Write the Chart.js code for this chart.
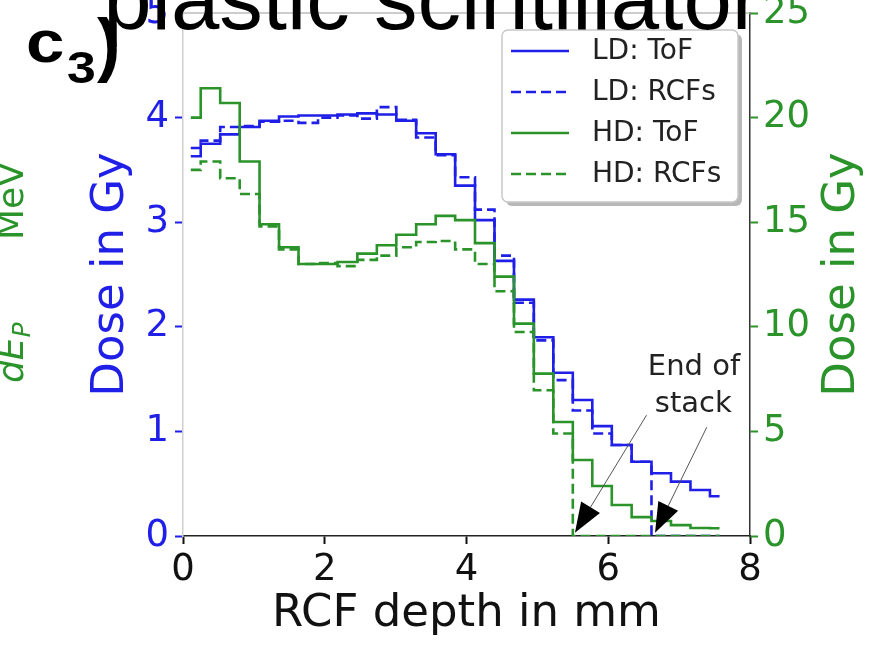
<!DOCTYPE html>
<html>
<head>
<meta charset="utf-8">
<script src="https://cdn.jsdelivr.net/npm/chart.js@4.4.1/dist/chart.umd.min.js"></script>
<style>
  html, body { margin: 0; padding: 0; background: #fff; }
  #wrap { width: 871px; height: 645px; }
</style>
</head>
<body>
<div id="wrap"><canvas id="doseChart" width="871" height="645"></canvas></div>
<script>
// RCF depth (mm) at the centre of each step
const depthMm = [0.11, 0.39, 0.66, 0.94, 1.22, 1.49, 1.77, 2.04, 2.32, 2.60, 2.87, 3.15, 3.43, 3.70,
  3.98, 4.26, 4.53, 4.81, 5.09, 5.36, 5.64, 5.91, 6.19, 6.47, 6.75, 7.02, 7.30, 7.57];

// low dose, left axis (Gy)
const ldTof = [3.63, 3.75, 3.84, 3.91, 3.97, 4.01, 4.02, 4.02, 4.03, 4.04, 4.03, 3.97, 3.85, 3.65,
  3.35, 3.02, 2.63, 2.26, 1.90, 1.56, 1.30, 1.05, 0.87, 0.71, 0.60, 0.52, 0.44, 0.38];
const ldRcf = [3.71, 3.78, 3.91, 3.92, 3.96, 3.97, 3.95, 4.00, 4.02, 3.99, 4.10, 3.98, 3.81, 3.64,
  3.43, 3.12, 2.68, 2.23, 1.87, 1.49, 1.20, 0.98, 0.87, 0.71, 0, 0, 0, 0];

// high dose, right axis (Gy)
const hdTof = [20.0, 21.4, 20.7, 17.9, 14.9, 13.8, 13.0, 13.0, 13.1, 13.5, 13.9, 14.4, 14.9, 15.3,
  15.1, 14.0, 12.4, 10.15, 7.76, 5.45, 3.63, 2.39, 1.48, 0.9, 0.72, 0.52, 0.38, 0.37];
const hdRcf = [17.5, 17.9, 17.1, 16.35, 14.8, 13.7, 13.0, 13.05, 12.9, 13.2, 13.4, 13.8, 14.05, 14.1,
  13.7, 13.0, 11.7, 9.75, 6.97, 4.9, 0, 0, 0, 0, 0, 0, 0, 0];

const xTicks = [0, 2, 4, 6, 8];
const leftTicks = [0, 1, 2, 3, 4, 5];
const rightTicks = [0, 5, 10, 15, 20, 25];

const seriesNames = ["LD: ToF", "LD: RCFs", "HD: ToF", "HD: RCFs"];

const BLUE = "#1f1fe8";
const GREEN = "#2a942a";
const FONT = "'DejaVu Sans', sans-serif";
const SANS = "'Liberation Sans', Arial, sans-serif";

const toPoints = (vals) => depthMm.map((x, i) => ({ x, y: vals[i] }));

const lineStyle = (color, dashed, axis, order) => ({
  borderColor: color,
  borderWidth: 2.6,
  borderDash: dashed ? [10, 5] : [],
  stepped: "middle",
  pointRadius: 0,
  fill: false,
  yAxisID: axis,
  order,
});

const overlay = {
  id: "overlay",
  beforeDraw(chart) {
    const c = chart.ctx;
    c.save();
    c.fillStyle = "#fff";
    c.fillRect(0, 0, chart.width, chart.height);
    c.restore();
  },
  afterDraw(chart) {
    const c = chart.ctx;
    const { left, right, top, bottom } = chart.chartArea;
    const sx = chart.scales.x;
    const sy = chart.scales.y;
    c.save();

    // top spine
    c.strokeStyle = "#bbb";
    c.lineWidth = 1.5;
    c.beginPath();
    c.moveTo(left, top);
    c.lineTo(right, top);
    c.stroke();

    // right axis title, read bottom to top like the left one
    c.save();
    c.translate(842, (top + bottom) / 2);
    c.rotate(-Math.PI / 2);
    c.fillStyle = GREEN;
    c.font = "45px " + FONT;
    c.textAlign = "center";
    c.textBaseline = "middle";
    c.fillText("Dose in Gy", 0, 0);
    c.restore();

    // legend box
    const lx = 502, ly = 30, lw = 236, lh = 172;
    c.fillStyle = "rgba(0,0,0,0.28)";
    c.beginPath();
    c.roundRect(lx + 4, ly + 4, lw, lh, 6);
    c.fill();
    c.fillStyle = "#fff";
    c.strokeStyle = "#c8c8c8";
    c.lineWidth = 1.5;
    c.beginPath();
    c.roundRect(lx, ly, lw, lh, 6);
    c.fill();
    c.stroke();

    const rows = [51, 92, 133, 174];
    const colors = [BLUE, BLUE, GREEN, GREEN];
    c.font = "28px " + FONT;
    c.textBaseline = "middle";
    c.textAlign = "left";
    seriesNames.forEach((name, i) => {
      c.strokeStyle = colors[i];
      c.lineWidth = 2.6;
      c.setLineDash(i % 2 ? [10, 5] : []);
      c.beginPath();
      c.moveTo(511, rows[i]);
      c.lineTo(569, rows[i]);
      c.stroke();
      c.setLineDash([]);
      c.fillStyle = "#222";
      c.fillText(name, 592, rows[i] + 1);
    });

    // "End of stack" annotation
    const arrow = (x0, y0, x1, y1) => {
      const p0x = sx.getPixelForValue(x0), p0y = sy.getPixelForValue(y0);
      const p1x = sx.getPixelForValue(x1), p1y = sy.getPixelForValue(y1);
      const dx = p1x - p0x, dy = p1y - p0y, len = Math.hypot(dx, dy);
      const ux = dx / len, uy = dy / len;
      const hl = 30, hw = 11;
      const bx = p1x - ux * hl, by = p1y - uy * hl;
      c.strokeStyle = "#555";
      c.lineWidth = 1;
      c.beginPath();
      c.moveTo(p0x, p0y);
      c.lineTo(bx, by);
      c.stroke();
      c.fillStyle = "#000";
      c.beginPath();
      c.moveTo(p1x, p1y);
      c.lineTo(bx - uy * hw, by + ux * hw);
      c.lineTo(bx + uy * hw, by - ux * hw);
      c.closePath();
      c.fill();
    };
    arrow(6.54, 1.155, 5.53, 0.03);
    arrow(7.39, 1.04, 6.66, 0.03);
    c.fillStyle = "#222";
    c.font = "29px " + FONT;
    c.textAlign = "center";
    c.fillText("End of", sx.getPixelForValue(7.21), sy.getPixelForValue(1.615));
    c.fillText("stack", sx.getPixelForValue(7.2), sy.getPixelForValue(1.26));

    // clipped panel title
    c.fillStyle = "#000";
    c.font = "87px " + SANS;
    c.textBaseline = "alphabetic";
    c.fillText("plastic scintillator", 432, 29);

    // panel tag c3)
    c.textAlign = "left";
    c.save();
    c.translate(26, 62);
    c.scale(1.15, 1);
    c.font = "bold 60px " + SANS;
    c.fillText("c", 0, 0);
    c.restore();
    c.save();
    c.translate(67, 83);
    c.scale(1.15, 1);
    c.font = "bold 45px " + SANS;
    c.fillText("3", 0, 0);
    c.restore();
    c.font = "bold 70px " + SANS;
    c.fillText(")", 97, 68);

    // neighbouring panel's axis label, cut at the left edge
    c.translate(23, 383);
    c.rotate(-Math.PI / 2);
    c.fillStyle = GREEN;
    c.font = "italic 36px " + FONT;
    c.fillText("dE", 0, 0);
    const w = c.measureText("dE").width;
    c.font = "italic 25px " + FONT;
    c.fillText("P", w, 7);
    c.font = "36px " + FONT;
    c.fillText("MeV", 143, 0);

    c.restore();
  },
};

new Chart(document.getElementById("doseChart"), {
  type: "line",
  data: {
    datasets: [
      { label: seriesNames[0], data: toPoints(ldTof), ...lineStyle(BLUE, false, "y", 4) },
      { label: seriesNames[1], data: toPoints(ldRcf), ...lineStyle(BLUE, true, "y", 3) },
      { label: seriesNames[2], data: toPoints(hdTof), ...lineStyle(GREEN, false, "y1", 2) },
      { label: seriesNames[3], data: toPoints(hdRcf), ...lineStyle(GREEN, true, "y1", 1) },
    ],
  },
  options: {
    responsive: false,
    animation: false,
    devicePixelRatio: 1,
    layout: { padding: { top: 13, left: 0, right: 0, bottom: 0 } },
    plugins: {
      legend: { display: false },
      tooltip: { enabled: false },
    },
    scales: {
      x: {
        type: "linear",
        min: 0,
        max: 8,
        afterBuildTicks(scale) {
          scale.ticks = xTicks.map((v) => ({ value: v }));
        },
        afterFit(scale) {
          scale.height = 109;
          scale.paddingLeft = 0;
          scale.paddingRight = 0;
        },
        grid: { drawOnChartArea: false, tickLength: 8, tickWidth: 2, tickColor: "#111" },
        border: { color: "#222", width: 1.5 },
        ticks: { color: "#111", padding: 4, maxRotation: 0, font: { family: FONT, size: 37 } },
        title: {
          display: true,
          text: "RCF depth in mm",
          color: "#111",
          padding: { top: 0, bottom: 4 },
          font: { family: FONT, size: 45 },
        },
      },
      y: {
        position: "left",
        min: 0,
        max: 5,
        afterBuildTicks(scale) {
          scale.ticks = leftTicks.map((v) => ({ value: v }));
        },
        afterFit(scale) {
          scale.width = 183;
          scale.paddingTop = 0;
          scale.paddingBottom = 0;
        },
        grid: { drawOnChartArea: false, tickLength: 8, tickWidth: 2, tickColor: BLUE },
        border: { color: "#cfcfcf", width: 1.5 },
        ticks: { color: BLUE, padding: 6, font: { family: FONT, size: 37 } },
        title: {
          display: true,
          text: "Dose in Gy",
          color: BLUE,
          padding: { top: 84, bottom: 0 },
          font: { family: FONT, size: 45 },
        },
      },
      y1: {
        position: "right",
        min: 0,
        max: 25,
        afterBuildTicks(scale) {
          scale.ticks = rightTicks.map((v) => ({ value: v }));
        },
        afterFit(scale) {
          scale.width = 121;
          scale.paddingTop = 0;
          scale.paddingBottom = 0;
        },
        grid: { drawOnChartArea: false, tickLength: 8, tickWidth: 2, tickColor: GREEN },
        border: { color: "#333", width: 1.5 },
        ticks: { color: GREEN, padding: 5, font: { family: FONT, size: 37 } },
        title: { display: false },
      },
    },
  },
  plugins: [overlay],
});
</script>
</body>
</html>
